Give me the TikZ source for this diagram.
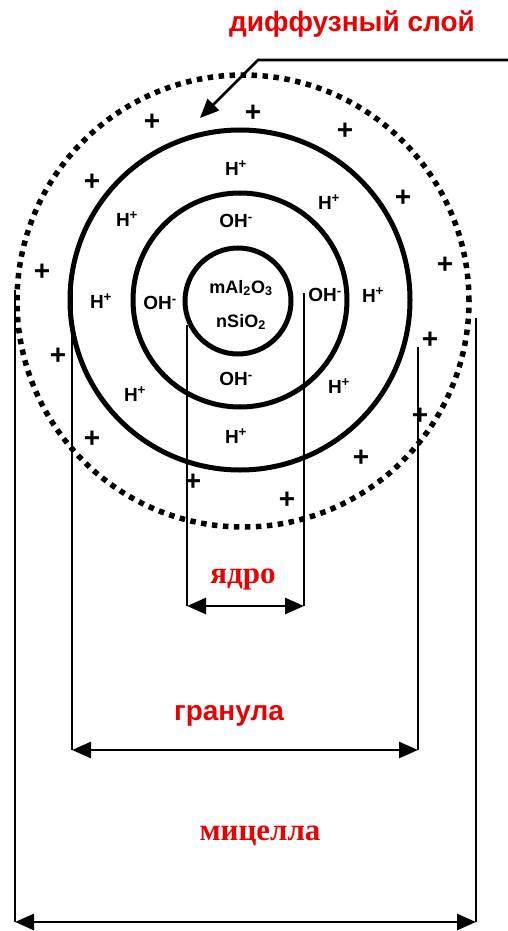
\documentclass[tikz,border=0pt]{standalone}
\usepackage{fontspec}
\setmainfont{Liberation Sans}
\newfontfamily\serifru{Liberation Serif}
\usetikzlibrary{arrows.meta}
\definecolor{labred}{RGB}{235,0,0}
\newcommand\hplus{H\textsuperscript{+}}
\newcommand\ohminus{OH\textsuperscript{-}}

\begin{document}
\begin{tikzpicture}[x=1pt, y=-1pt,
  ring/.style={line width=5pt},
  dotring/.style={line width=5.5pt, dash pattern=on 5.5pt off 5.5pt},
  ion/.style={font=\fontsize{19}{19}\selectfont\bfseries, inner sep=0pt},
  core/.style={font=\fontsize{18}{18}\selectfont\bfseries, inner sep=0pt},
  plus/.style={font=\fontsize{28}{28}\selectfont\bfseries, inner sep=0pt},
  guide/.style={line width=1.6pt},
  dim/.style={line width=2.8pt, {Triangle[length=19pt,width=16pt]}-{Triangle[length=19pt,width=16pt]}},
  lbl/.style={text=labred, font=\fontsize{28}{28}\selectfont\bfseries, inner sep=0pt},
  serlbl/.style={lbl, font=\fontsize{31}{31}\selectfont\serifru\bfseries}]
  \useasboundingbox (0,0) rectangle (508,931);

  \coordinate (O) at (240,300);
  \draw[dotring] (243,301) circle (226pt);
  \draw[ring] (O) circle (170pt);
  \draw[ring] (O) circle (107pt);
  \draw[ring] (238,301) circle (53pt);

  % core
  \node[core] (al) at (241,288) {mAl\textsubscript{2}O\textsubscript{3}};
  \node[core] (si) at (241,322) {nSiO\textsubscript{2}};

  % OH- layer
  \node[ion] (oh1) at (236,221) {\ohminus};
  \node[ion] (oh2) at (160,303) {\ohminus};
  \node[ion] (oh3) at (325,295) {\ohminus};
  \node[ion] (oh4) at (236,379) {\ohminus};

  % H+ layer
  \node[ion] (h1) at (236,168) {\hplus};
  \node[ion] (h2) at (127,219) {\hplus};
  \node[ion] (h3) at (329,202) {\hplus};
  \node[ion] (h4) at (101,301) {\hplus};
  \node[ion] (h5) at (373,295) {\hplus};
  \node[ion] (h6) at (135,394) {\hplus};
  \node[ion] (h7) at (339,386) {\hplus};
  \node[ion] (h8) at (236,436) {\hplus};

  % diffuse layer
  \node[plus] (p1) at (152,122) {+};
  \node[plus] (p2) at (253,113) {+};
  \node[plus] (p3) at (345,131) {+};
  \node[plus] (p4) at (92,182) {+};
  \node[plus] (p5) at (403,198) {+};
  \node[plus] (p6) at (42,272) {+};
  \node[plus] (p7) at (445,265) {+};
  \node[plus] (p8) at (58,356) {+};
  \node[plus] (p9) at (430,340) {+};
  \node[plus] (p10) at (420,416) {+};
  \node[plus] (p11) at (92,439) {+};
  \node[plus] (p12) at (361,458) {+};
  \node[plus] (p13) at (193,482) {+};
  \node[plus] (p14) at (287,500) {+};

  \node[lbl] (diff) at (352,24) {диффузный слой};
  \coordinate (L0) at (508,60);
  \coordinate (L1) at (258,60);
  \coordinate (L2) at (200,118);
  \draw[line width=2.8pt, -{Triangle[length=19pt,width=16pt]}] (L0) -- (L1) -- (L2);

  % ядро
  \coordinate (ya) at (187,325);
  \coordinate (yb) at (304,293);
  \coordinate (ya') at (187,606);
  \coordinate (yb') at (304,606);
  \draw[guide] (ya) -- (ya');
  \draw[guide] (yb) -- (yb');
  \draw[dim] (ya') -- (yb');
  \node[serlbl] (yadro) at (243,579) {ядро};

  % гранула
  \coordinate (ga) at (72,290);
  \coordinate (gb) at (418,347);
  \coordinate (ga') at (72,750);
  \coordinate (gb') at (418,750);
  \draw[guide] (ga) -- (ga');
  \draw[guide] (gb) -- (gb');
  \draw[dim] (ga') -- (gb');
  \node[lbl] (gran) at (229,716) {гранула};

  % мицелла
  \coordinate (ma) at (15,290);
  \coordinate (mb) at (476,318);
  \coordinate (ma') at (15,922);
  \coordinate (mb') at (476,922);
  \draw[guide] (ma) -- (ma');
  \draw[guide] (mb) -- (mb');
  \draw[dim] (ma') -- (mb');
  \node[serlbl] (mic) at (260,836) {мицелла};
\end{tikzpicture}
\end{document}
